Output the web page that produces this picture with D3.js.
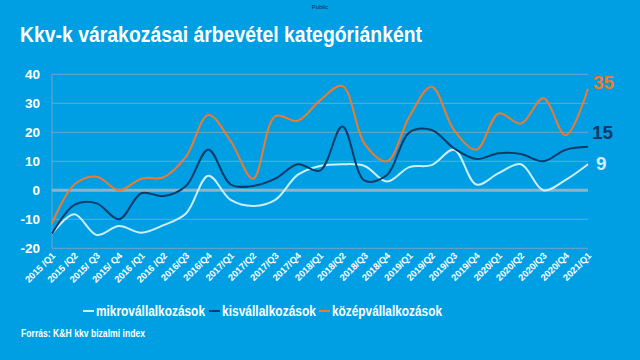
<!DOCTYPE html>
<html><head><meta charset="utf-8">
<script src="https://cdn.jsdelivr.net/npm/d3@7/dist/d3.min.js"></script>
<style>
html,body{margin:0;padding:0;background:#009FE3;}
svg{display:block;font-family:"Liberation Sans",Arial,sans-serif;}
</style></head>
<body>
<svg id="c" width="640" height="360"></svg>
<script>
const categories = ["2015 /Q1","2015 /Q2","2015/ Q3","2015/ Q4","2016 /Q1","2016 /Q2","2016/Q3","2016/Q4",
"2017/Q1","2017/Q2","2017/Q3","2017/Q4","2018/Q1","2018/Q2","2018/Q3","2018/Q4",
"2019/Q1","2019/Q2","2019/Q3","2019/Q4","2020/Q1","2020/Q2","2020/Q3","2020/Q4","2021/Q1"];
const mikro = [-15,-8.3,-15.4,-12.3,-14.6,-12,-8,5,-3.3,-5.4,-3.3,5.3,8.4,9,8.4,3,8,8.7,14,2,5.9,9,0,3.6,9];
const kis   = [-15,-5,-4.5,-10,-1,-2,1.5,14,2,1.5,4,9,6.8,22,3.3,5.3,20,20.8,14.5,10.8,12.8,12.5,10,14,15];
const kozep = [-11.4,2,4.7,0,4,4.5,11.6,26,17,4,25.6,24,31,36,16,10,25.4,35.7,20.8,14,26.5,23,31.7,19,35];
const yTicks = [-20,-10,0,10,20,30,40];
const seriesNames = ["mikrovállalkozások","kisvállalkozások","középvállalkozások"];
const endLabels = ["9","15","35"];

const colors = ["#CDEEFB","#0A3A68","#EE7A30"];
const svg = d3.select("#c");
const L = 52, R = 588, T = 74.3, B = 248.3;
const x = d3.scalePoint().domain(categories).range([L, R]);
const y = d3.scaleLinear().domain([-20, 40]).range([B, T]);

svg.append("text").attr("x",320).attr("y",9).attr("text-anchor","middle")
  .attr("font-size",6).attr("fill","#1a2a3a").text("Public");
svg.append("text").attr("x",20).attr("y",42).attr("font-size",22).attr("font-weight","bold")
  .attr("fill","#fff").attr("textLength",402).attr("lengthAdjust","spacingAndGlyphs")
  .text("Kkv-k várakozásai árbevétel kategóriánként");

// gridlines
svg.append("g").selectAll("line").data(yTicks.filter(d=>d!==0)).join("line")
  .attr("x1",L).attr("x2",R).attr("y1",d=>y(d)).attr("y2",d=>y(d))
  .attr("stroke","#8AA8BD").attr("stroke-width",0.8);
svg.append("line").attr("x1",L).attr("x2",L).attr("y1",T).attr("y2",B)
  .attr("stroke","#8AA8BD").attr("stroke-width",0.8);
svg.append("line").attr("x1",L).attr("x2",R).attr("y1",y(0)).attr("y2",y(0))
  .attr("stroke","#8DB3CB").attr("stroke-width",3);

// y labels
svg.append("g").selectAll("text").data(yTicks).join("text")
  .attr("x",40).attr("y",d=>y(d)+5).attr("text-anchor","end")
  .attr("font-size",13.5).attr("font-weight","bold").attr("fill","#fff").text(d=>d);

// x labels
svg.append("g").selectAll("text").data(categories).join("text")
  .attr("transform",d=>`translate(${x(d)+4},${B+8}) rotate(-45)`)
  .attr("text-anchor","end").attr("font-size",9.3).attr("font-weight","bold")
  .attr("fill","#fff").text(d=>d);

const line = d3.line().x((d,i)=>x(categories[i])).y(d=>y(d)).curve(d3.curveCatmullRom.alpha(0.5));
[mikro,kis,kozep].forEach((s,k)=>{
  svg.append("path").attr("d",line(s)).attr("fill","none")
    .attr("stroke",colors[k]).attr("stroke-width",2);
});

// end labels
const endSeries=[mikro,kis,kozep];
endSeries.forEach((s,k)=>{
  const v=s[s.length-1];
  const off=[ [8,6],[4,-8],[5,0] ][k];
  svg.append("text").attr("x",R+off[0]).attr("y",y(v)+off[1])
    .attr("font-size",19).attr("font-weight","bold").attr("fill",colors[k]).text(endLabels[k]);
});

// legend
const legX=[83,209,319], legW=[109,94,110];
seriesNames.forEach((n,k)=>{
  svg.append("line").attr("x1",legX[k]).attr("x2",legX[k]+11).attr("y1",311).attr("y2",311)
    .attr("stroke",colors[k]).attr("stroke-width",2);
  svg.append("text").attr("x",legX[k]+13).attr("y",316).attr("font-size",14.5).attr("font-weight","bold")
    .attr("fill","#fff").attr("textLength",legW[k]).attr("lengthAdjust","spacingAndGlyphs").text(n);
});
svg.append("text").attr("x",21).attr("y",337).attr("font-size",10).attr("font-weight","bold")
  .attr("fill","#fff").attr("textLength",124).attr("lengthAdjust","spacingAndGlyphs")
  .text("Forrás: K&H kkv bizalmi index");
</script>
</body></html>
